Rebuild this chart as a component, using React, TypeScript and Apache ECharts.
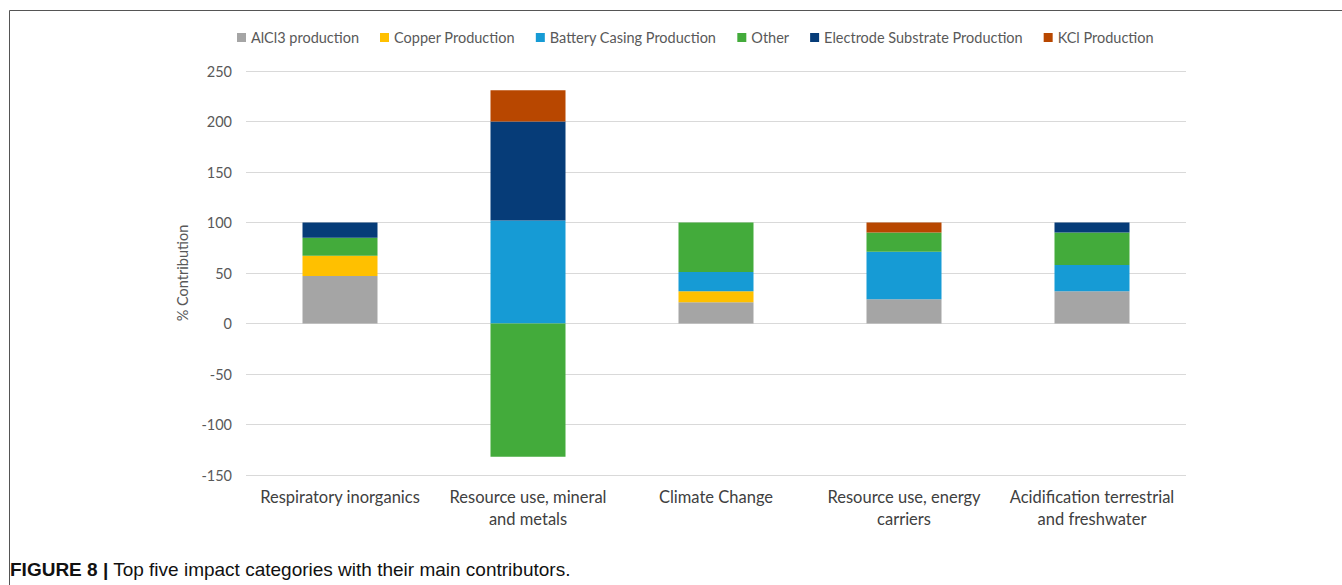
import React, { useEffect, useRef } from "react";
import * as echarts from "echarts";

const categories = [
  "Respiratory inorganics",
  "Resource use, mineral\nand metals",
  "Climate Change",
  "Resource use, energy\ncarriers",
  "Acidification terrestrial\nand freshwater",
];
const alcl3 = [47, 0, 21, 24, 32];
const copper = [20, 0, 11, 0, 0];
const battery = [0, 102, 19, 47, 26];
const other = [18, -132, 49, 19, 32];
const electrode = [15, 98, 0, 0, 10];
const kcl = [0, 31, 0, 10, 0];

const seriesNames = [
  "AlCl3 production",
  "Copper Production",
  "Battery Casing Production",
  "Other",
  "Electrode Substrate Production",
  "KCl Production",
];
const seriesData = [alcl3, copper, battery, other, electrode, kcl];
const colors = ["#a5a5a5", "#ffc000", "#169bd5", "#43ab3b", "#063c78", "#b84700"];
const yTicks = { min: -150, max: 250, interval: 50 };

export default function App() {
  const ref = useRef<HTMLDivElement>(null);
  useEffect(() => {
    document.body.style.margin = "0";
    const chart = echarts.init(ref.current!, null, { renderer: "svg" });
    const font = "Lato, 'Open Sans', sans-serif";
    chart.setOption({
      animation: false,
      textStyle: { fontFamily: font },
      legend: {
        top: 25,
        left: 232,
        itemWidth: 9,
        itemHeight: 9,
        itemGap: 21,
        icon: "rect",
        textStyle: { fontSize: 14.5, color: "#595959", fontFamily: font },
        data: seriesNames,
      },
      grid: { left: 246, right: 156, top: 71, bottom: 110 },
      xAxis: {
        type: "category",
        data: categories,
        axisLine: { show: false },
        axisTick: { show: false },
        axisLabel: {
          color: "#404040",
          fontSize: 16.5,
          lineHeight: 22,
          margin: 11,
          fontFamily: font,
          interval: 0,
        },
      },
      yAxis: {
        type: "value",
        min: yTicks.min,
        max: yTicks.max,
        interval: yTicks.interval,
        name: "% Contribution",
        nameLocation: "middle",
        nameGap: 52,
        nameTextStyle: { color: "#595959", fontSize: 14.5, fontFamily: font },
        axisLabel: { color: "#595959", fontSize: 14.5, margin: 14, fontFamily: font },
        splitLine: { lineStyle: { color: "#d9d9d9", width: 1 } },
        axisLine: { show: false },
        axisTick: { show: false },
      },
      series: seriesNames.map((n, i) => ({
        name: n,
        type: "bar",
        stack: "total",
        barWidth: 75,
        data: seriesData[i],
        itemStyle: { color: colors[i] },
      })),
      graphic: [
        {
          type: "rect",
          shape: { x: 9.5, y: 10.5, width: 1400, height: 700 },
          style: { fill: "none", stroke: "#555", lineWidth: 1 },
          silent: true,
        },
        {
          type: "text",
          left: 10,
          top: 560,
          style: {
            text: "{b|FIGURE 8 |} Top five impact categories with their main contributors.",
            rich: {
              b: { fontWeight: "bold", fontSize: 19, fill: "#111", fontFamily: "'Liberation Sans', Arial, sans-serif" },
            },
            fontSize: 19,
            fill: "#111",
            fontFamily: "'Liberation Sans', Arial, sans-serif",
          },
        },
      ],
    });
    return () => chart.dispose();
  }, []);
  return <div ref={ref} style={{ width: 1342, height: 585 }} />;
}
